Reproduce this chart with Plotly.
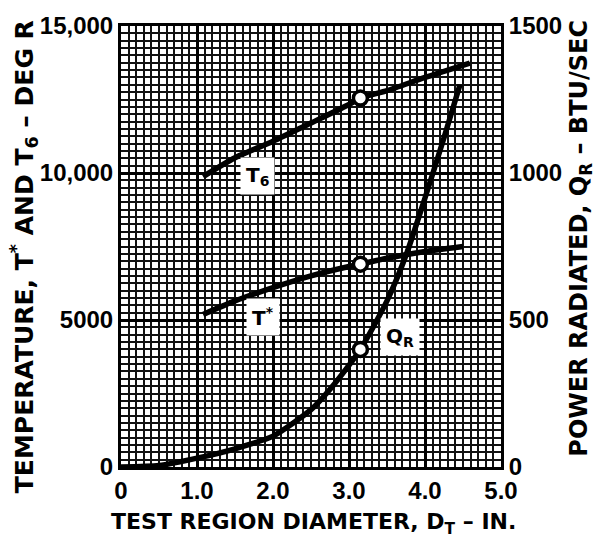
import plotly.graph_objects as go

# ---- data ----
t6_d = [1.08, 1.5, 2.0, 2.5, 3.0, 3.15, 3.5, 4.0, 4.59]
t6_v = [9880, 10520, 11080, 11700, 12330, 12550, 12800, 13250, 13740]

tstar_d = [1.08, 1.5, 2.0, 2.5, 3.0, 3.15, 3.5, 4.0, 4.5]
tstar_v = [5190, 5650, 6100, 6500, 6820, 6900, 7100, 7330, 7500]

qr_d = [0.0, 0.5, 1.0, 1.5, 2.0, 2.5, 2.8, 3.15, 3.5, 3.75, 4.0, 4.25, 4.46]
qr_v = [0, 5, 30, 62, 105, 195, 280, 400, 565, 720, 915, 1120, 1300]

marker_d = [3.15, 3.15, 3.15]
marker_temp = [12550, 6900]   # on T6 and T*
marker_q = [400]              # on Q_R

x_tickvals = [0, 1, 2, 3, 4, 5]
x_ticktext = ["0", "1.0", "2.0", "3.0", "4.0", "5.0"]
yl_tickvals = [0, 5000, 10000, 15000]
yl_ticktext = ["0", "5000", "10,000", "15,000"]
yr_tickvals = [0, 500, 1000, 1500]
yr_ticktext = ["0", "500", "1000", "1500"]

TICKFONT = dict(family="Liberation Sans", size=24, color="black", weight="bold")
TITLEFONT = "DejaVu Sans"

fig = go.Figure()

line_style = dict(color="black", width=5.5, shape="spline", smoothing=0.6)
fig.add_trace(go.Scatter(x=t6_d, y=t6_v, mode="lines", line=line_style, hoverinfo="skip"))
fig.add_trace(go.Scatter(x=tstar_d, y=tstar_v, mode="lines", line=line_style, hoverinfo="skip"))
fig.add_trace(go.Scatter(x=qr_d, y=qr_v, mode="lines", line=line_style, yaxis="y2", hoverinfo="skip"))

mk = dict(symbol="circle", size=14, color="white", line=dict(color="black", width=3.5))
fig.add_trace(go.Scatter(x=marker_d[:2], y=marker_temp, mode="markers", marker=mk, hoverinfo="skip"))
fig.add_trace(go.Scatter(x=marker_d[2:], y=marker_q, mode="markers", marker=mk, yaxis="y2", hoverinfo="skip"))

fig.update_layout(
    width=595, height=545,
    margin=dict(l=121, r=94, t=13, b=78),
    paper_bgcolor="white", plot_bgcolor="white",
    showlegend=False,
    xaxis=dict(
        range=[0, 5], tickvals=x_tickvals, ticktext=x_ticktext,
        showgrid=True, gridcolor="black", gridwidth=2.5,
        minor=dict(dtick=0.1, tick0=0, showgrid=True, gridcolor="#111", gridwidth=1.6),
        showline=True, linecolor="black", linewidth=3, mirror=True,
        ticks="", tickfont=TICKFONT, zeroline=False,
    ),
    yaxis=dict(
        range=[0, 15000], tickvals=yl_tickvals, ticktext=yl_ticktext,
        showgrid=True, gridcolor="black", gridwidth=2.5,
        minor=dict(dtick=250, tick0=0, showgrid=True, gridcolor="#111", gridwidth=1.6),
        showline=True, linecolor="black", linewidth=3, mirror=True,
        ticks="", tickfont=TICKFONT, zeroline=False,
    ),
    yaxis2=dict(
        range=[0, 1500], tickvals=yr_tickvals, ticktext=yr_ticktext,
        overlaying="y", side="right", showgrid=False, zeroline=False,
        showline=True, linecolor="black", linewidth=3,
        ticks="", tickfont=TICKFONT,
    ),
)

annos = [
    dict(text="TEST REGION DIAMETER, D<sub>T</sub> \u2013 IN.", x=0.506, y=-0.128,
         xref="paper", yref="paper", showarrow=False, xanchor="center", yanchor="middle",
         font=dict(family=TITLEFONT, size=22, color="black", weight="bold")),
    dict(text="TEMPERATURE, T<sup>*</sup> AND T<sub>6</sub> \u2013 DEG R", x=-0.255, y=0.476,
         xref="paper", yref="paper", showarrow=False, xanchor="center", yanchor="middle",
         textangle=-90,
         font=dict(family=TITLEFONT, size=25, color="black", weight="bold")),
    dict(text="POWER RADIATED, Q<sub>R</sub> \u2013 BTU/SEC", x=1.2105, y=0.52,
         xref="paper", yref="paper", showarrow=False, xanchor="center", yanchor="middle",
         textangle=-90,
         font=dict(family=TITLEFONT, size=24, color="black", weight="bold")),
]
label_font = dict(family=TITLEFONT, size=20, color="black", weight="bold")
for txt, xx, yy in [("T<sub>6</sub>", 1.79, 9910), ("T<sup>*</sup>", 1.87, 5090), ("Q<sub>R</sub>", 3.67, 4430)]:
    annos.append(dict(text=txt, x=xx, y=yy, xref="x", yref="y", showarrow=False,
                      xanchor="center", yanchor="middle", bgcolor="white", borderpad=5,
                      font=label_font))
fig.update_layout(annotations=annos)

fig.write_html("out.html")
